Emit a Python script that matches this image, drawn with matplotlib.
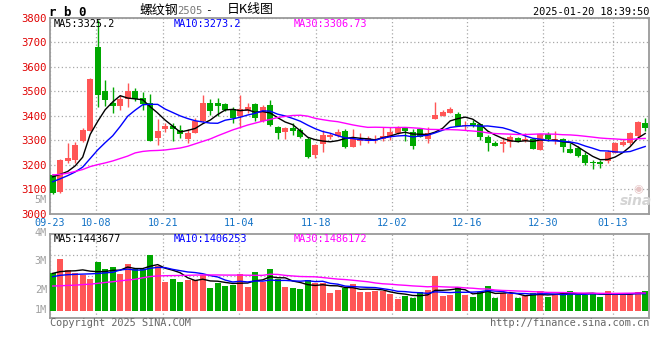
import matplotlib
matplotlib.use("Agg")
import matplotlib.pyplot as plt
import numpy as np
import pandas as pd

W, H = 660, 360

# ---------------- data ----------------
opens = [3158, 3089, 3215, 3219, 3298, 3339, 3683, 3503, 3451, 3440,
         3468, 3503, 3474, 3451, 3308, 3346, 3358, 3342, 3305, 3331,
         3380, 3454, 3454, 3449, 3427, 3399, 3421, 3449, 3380, 3445,
         3352, 3335, 3349, 3342, 3304, 3240, 3285, 3312, 3317, 3338,
         3274, 3298, 3298, 3312, 3304, 3315, 3331, 3352, 3335, 3345,
         3304, 3387, 3401, 3413, 3408, 3360, 3372, 3365, 3315, 3290,
         3283, 3292, 3310, 3297, 3304, 3260, 3326, 3302, 3305, 3264,
         3267, 3240, 3209, 3212, 3215, 3249, 3281, 3287, 3319, 3372]
closes = [3085, 3219, 3226, 3281, 3342, 3551, 3485, 3465, 3440, 3469,
          3503, 3468, 3447, 3298, 3339, 3358, 3346, 3326, 3331, 3379,
          3454, 3421, 3440, 3424, 3392, 3427, 3437, 3392, 3437, 3363,
          3331, 3349, 3338, 3312, 3230, 3281, 3322, 3322, 3335, 3274,
          3304, 3304, 3310, 3315, 3319, 3335, 3356, 3338, 3278, 3315,
          3331, 3404, 3417, 3428, 3360, 3363, 3362, 3315, 3287, 3278,
          3294, 3315, 3297, 3305, 3264, 3324, 3305, 3304, 3271, 3249,
          3236, 3206, 3207, 3203, 3253, 3287, 3294, 3331, 3376, 3349]
highs = [3163, 3222, 3288, 3294, 3349, 3553, 3790, 3547, 3517, 3485,
         3533, 3515, 3499, 3488, 3386, 3369, 3372, 3362, 3345, 3390,
         3483, 3468, 3472, 3454, 3437, 3485, 3454, 3452, 3442, 3465,
         3360, 3355, 3369, 3349, 3312, 3283, 3342, 3328, 3346, 3345,
         3345, 3331, 3318, 3322, 3356, 3356, 3360, 3356, 3345, 3350,
         3352, 3458, 3425, 3437, 3417, 3379, 3383, 3368, 3320, 3295,
         3315, 3320, 3315, 3328, 3310, 3326, 3332, 3338, 3310, 3287,
         3275, 3253, 3219, 3219, 3258, 3294, 3305, 3335, 3378, 3392]
lows = [3080, 3085, 3208, 3207, 3292, 3337, 3437, 3440, 3412, 3424,
        3435, 3460, 3424, 3295, 3281, 3335, 3297, 3308, 3290, 3328,
        3373, 3404, 3397, 3420, 3369, 3349, 3410, 3380, 3375, 3360,
        3305, 3304, 3322, 3310, 3228, 3226, 3253, 3305, 3312, 3267,
        3272, 3281, 3290, 3290, 3298, 3300, 3326, 3297, 3264, 3312,
        3287, 3385, 3398, 3410, 3358, 3342, 3355, 3301, 3257, 3275,
        3253, 3274, 3294, 3294, 3262, 3258, 3295, 3283, 3253, 3247,
        3230, 3199, 3182, 3188, 3205, 3247, 3276, 3281, 3315, 3339]
# volume, millions of lots
volume_m = [3.11, 4.23, 3.33, 3.11, 2.93, 2.60, 4.01, 3.41, 3.58, 3.01,
            3.85, 3.41, 3.39, 4.55, 3.66, 2.38, 2.60, 2.36, 2.52, 2.52,
            2.93, 1.89, 2.25, 2.03, 2.11, 3.01, 1.98, 3.17, 2.38, 3.41,
            2.58, 1.95, 1.87, 1.79, 2.52, 2.25, 2.25, 1.49, 1.71, 1.85,
            2.20, 1.57, 1.57, 1.63, 1.63, 1.38, 0.98, 1.24, 1.08, 1.54,
            1.71, 2.85, 1.24, 1.30, 1.95, 1.30, 1.16, 1.57, 2.03, 1.08,
            1.44, 1.36, 1.08, 1.22, 1.44, 1.63, 1.16, 1.30, 1.54, 1.63,
            1.30, 1.30, 1.46, 1.14, 1.63, 1.30, 1.30, 1.46, 1.54, 1.63]
# moving-average values before a full window exists
ma5_head = [3150, 3160, 3172, 3195]
ma10_head = [3130, 3142, 3155, 3170, 3190, 3225, 3260, 3290, 3318]
ma30_head = [3158, 3160, 3165, 3172, 3180, 3192, 3200, 3207, 3215, 3225,
             3235, 3248, 3254, 3257, 3258, 3260, 3264, 3268, 3275, 3285,
             3295, 3305, 3318, 3330, 3342, 3352, 3362, 3370, 3378]
vma5_head = [3.06, 3.20, 3.25, 3.27]
vma10_head = [2.79, 2.90, 2.95, 2.98, 3.00, 3.02, 3.05, 3.10, 3.15]
vma30_head = [2.03, 2.05, 2.08, 2.10, 2.15, 2.18, 2.25, 2.32, 2.38, 2.45,
              2.52, 2.58, 2.70, 2.80, 2.85, 2.87, 2.88, 2.89, 2.90, 2.92,
              2.93, 2.93, 2.93, 2.92, 2.92, 2.92, 2.91, 2.90, 2.90]

date_labels = ["09-23", "10-08", "10-21", "11-04", "11-18", "12-02", "12-16", "12-30", "01-13"]
price_ticks = [3000, 3100, 3200, 3300, 3400, 3500, 3600, 3700, 3800]
vol_labels = ["5M", "4M", "3M", "2M", "1M"]
legend_price = ["MA5:3325.2", "MA10:3273.2", "MA30:3306.73"]
legend_vol = ["MA5:1443677", "MA10:1406253", "MA30:1486172"]

# ---------------- helpers ----------------
def ma(series, n, head):
    s = pd.Series(series, dtype=float).rolling(n).mean().to_numpy()
    s[:len(head)] = head
    return s

RED = "#ff5656"
GREEN = "#00a800"
GRID = "#a8a8a8"
BORDER = "#9a9a9a"
MONO = "DejaVu Sans Mono"

n = len(closes)
x = np.arange(n)
o = np.array(opens, float); c = np.array(closes, float)
hi = np.array(highs, float); lo = np.array(lows, float)
up = c >= o
cols = np.where(up, RED, GREEN)

fig = plt.figure(figsize=(W / 100, H / 100), dpi=100)
fig.patch.set_facecolor("white")

def fx(px): return px / W
def fy(py): return 1 - py / H

# x mapping: first candle centre at px 52.7, spacing 7.5 px, axes 50..649
xl = (-2.7 / 7.5, -2.7 / 7.5 + 599 / 7.5)
# date gridline positions (layout, measured from reference)
tick_px = [50, 95.7, 163.3, 239.3, 315.7, 391.7, 467.3, 543.3, 612.7]
tick_pos = [(p - 52.7) / 7.5 for p in tick_px]

ax1 = fig.add_axes([fx(50), fy(213.5), 599 / W, 195.5 / H])
ax2 = fig.add_axes([fx(50), fy(318), 599 / W, 84 / H])

for ax in (ax1, ax2):
    ax.set_xlim(*xl)
    for sp in ax.spines.values():
        sp.set_color(BORDER)
        sp.set_linewidth(1.3)
    ax.tick_params(length=0)
    ax.set_xticks(tick_pos)
    ax.grid(True, color=GRID, linestyle=(0, (1, 2)), linewidth=0.9)
    ax.set_axisbelow(True)

# ---- price panel ----
ax1.set_ylim(3000, 3800)
ax1.set_yticks(price_ticks)
ax1.set_yticklabels([str(t) for t in price_ticks], family=MONO, fontsize=7.6, color="#e00000")
ax1.tick_params(axis="y", pad=2.2)
ax1.set_xticklabels(date_labels, family=MONO, fontsize=7.3, color="#1272c6")
ax1.tick_params(axis="x", pad=3.0)

body_lo = np.minimum(o, c)
body_h = np.maximum(np.abs(c - o), 2.5)
ax1.vlines(x, lo, hi, colors=cols, linewidth=1.0, zorder=2)
ax1.bar(x, body_h, bottom=body_lo, width=0.82, color=cols, linewidth=0, zorder=3)

ax1.plot(x, ma(closes, 5, ma5_head), color="black", lw=1.0, zorder=4)
ax1.plot(x, ma(closes, 10, ma10_head), color="#0000ff", lw=1.0, zorder=4)
ax1.plot(x, ma(closes, 30, ma30_head), color="#ff00ff", lw=1.0, zorder=4)

for txt, px, col in zip(legend_price, [54, 174, 294], ["black", "#0000ff", "#ff00ff"]):
    fig.text(fx(px), fy(24), txt, family=MONO, fontsize=7.4, color=col, va="center", ha="left")

# ---- volume panel ----
vol = np.array(volume_m)
k = 12.3  # px per million
vlo, vhi = -(318 - 311) / k, (311 - 234) / k
ax2.set_ylim(vlo, vhi)
ax2.set_yticks([vlo + f * (vhi - vlo) for f in (0.25, 0.5, 0.75)])
ax2.set_yticklabels([])
ax2.set_xticklabels([])
ax2.bar(x, vol, width=0.82, color=cols, linewidth=0, zorder=3)
ax2.plot(x, ma(volume_m, 5, vma5_head), color="black", lw=1.0, zorder=4)
ax2.plot(x, ma(volume_m, 10, vma10_head), color="#0000ff", lw=1.0, zorder=4)
ax2.plot(x, ma(volume_m, 30, vma30_head), color="#ff00ff", lw=1.0, zorder=4)

for txt, px, col in zip(legend_vol, [54, 174, 294], ["black", "#0000ff", "#ff00ff"]):
    fig.text(fx(px), fy(239), txt, family=MONO, fontsize=7.4, color=col, va="center", ha="left")

for lab, py in zip(vol_labels, [200, 232.5, 261, 290, 310]):
    fig.text(fx(47), fy(py), lab, family=MONO, fontsize=7.3, color="#a0a0a0", ha="right", va="center")

# ---- header / footer ----
fig.text(fx(49), fy(12), "r b 0", family=MONO, fontsize=9, fontweight="bold", color="black", va="center", ha="left")
fig.text(fx(140), fy(10), "螺纹钢", family=["Noto Sans CJK SC", "DejaVu Sans"], fontsize=9.3, color="black", va="center", ha="left")
fig.text(fx(177), fy(11), "2505", family=MONO, fontsize=7.6, color="#777777", va="center", ha="left")
fig.text(fx(205), fy(10), "-", family=MONO, fontsize=8, color="black", va="center", ha="left")
fig.text(fx(227), fy(10), "日K线图", family=["Noto Sans CJK SC", "DejaVu Sans"], fontsize=9.3, color="black", va="center", ha="left")
fig.text(fx(649), fy(12), "2025-01-20 18:39:50", family=MONO, fontsize=7.4, color="black", va="center", ha="right")
fig.text(fx(50), fy(323.5), "Copyright 2025 SINA.COM", family=MONO, fontsize=7.4, color="#666666", va="center", ha="left")
fig.text(fx(649), fy(323.5), "http://finance.sina.com.cn", family=MONO, fontsize=7.4, color="#666666", va="center", ha="right")

# sina watermark
fig.text(fx(636), fy(201), "sina", family="DejaVu Sans", fontsize=10, fontweight="bold", style="italic",
         color="#d4d4d4", va="center", ha="center")
fig.text(fx(638), fy(189), "◉", family="DejaVu Sans", fontsize=8, color="#e6c4c4", va="center", ha="center")

fig.savefig("out.png", dpi=100)
